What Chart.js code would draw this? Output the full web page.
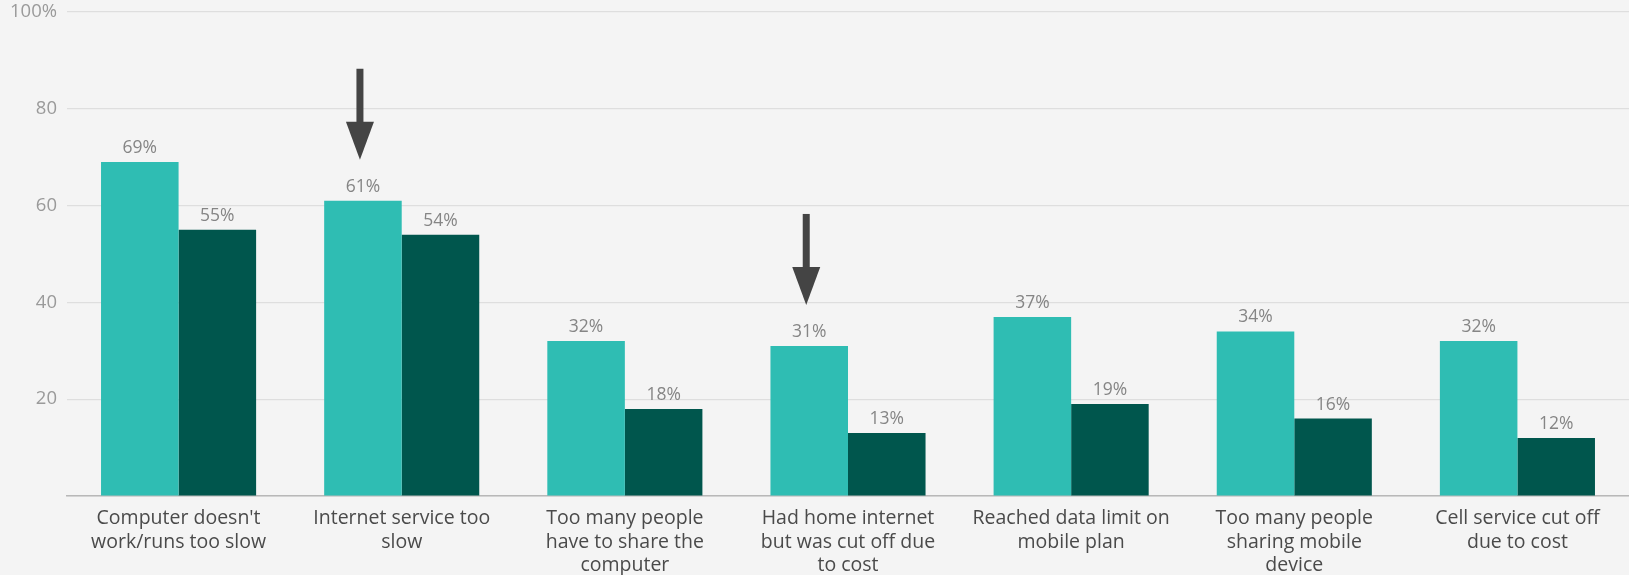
<!DOCTYPE html>
<html>
<head>
<meta charset="utf-8">
<script src="https://cdn.jsdelivr.net/npm/chart.js@4/dist/chart.umd.min.js"></script>
<style>
  html, body { margin: 0; padding: 0; background: #f4f4f4; }
  #wrap { width: 1629px; height: 575px; position: relative; }
</style>
</head>
<body>
<div id="wrap"><canvas id="chart"></canvas></div>
<script>
// Reasons for connectivity trouble, two groups side by side
const categories = [
    ["Computer doesn't", "work/runs too slow"],
    ["Internet service too", "slow"],
    ["Too many people", "have to share the", "computer"],
    ["Had home internet", "but was cut off due", "to cost"],
    ["Reached data limit on", "mobile plan"],
    ["Too many people", "sharing mobile", "device"],
    ["Cell service cut off", "due to cost"]
];
const groupA = [69, 61, 32, 31, 37, 34, 32];
const groupB = [55, 54, 18, 13, 19, 16, 12];
const yTicks = [0, 20, 40, 60, 80, 100];
const arrowedBars = [1, 3]; // categories marked with a down arrow (first series)

const FONT = '"Open Sans", sans-serif';

// value labels above each bar
const valueLabels = {
    id: 'valueLabels',
    afterDatasetsDraw(chart) {
        const ctx = chart.ctx;
        ctx.save();
        ctx.font = '17.5px ' + FONT;
        ctx.fillStyle = '#858585';
        ctx.textAlign = 'center';
        ctx.textBaseline = 'alphabetic';
        chart.data.datasets.forEach((ds, i) => {
            chart.getDatasetMeta(i).data.forEach((bar, j) => {
                ctx.fillText(ds.data[j] + '%', bar.x, bar.y - 9);
            });
        });
        ctx.restore();
    }
};

// down arrows pointing at highlighted bars
const arrows = {
    id: 'arrows',
    afterDatasetsDraw(chart) {
        const ctx = chart.ctx;
        const meta = chart.getDatasetMeta(0);
        ctx.save();
        ctx.fillStyle = '#444444';
        arrowedBars.forEach(idx => {
            const bar = meta.data[idx];
            const x = bar.x - 3;
            const tip = bar.y - 41;
            const headLen = 38, headW = 14, shaftW = 3.5, total = 91;
            ctx.fillRect(x - shaftW, tip - total, shaftW * 2, total - headLen + 1);
            ctx.beginPath();
            ctx.moveTo(x - headW, tip - headLen);
            ctx.lineTo(x + headW, tip - headLen);
            ctx.lineTo(x, tip);
            ctx.closePath();
            ctx.fill();
        });
        ctx.restore();
    }
};

new Chart(document.getElementById('chart'), {
    type: 'bar',
    data: {
        labels: categories,
        datasets: [
            { label: 'Group A', data: groupA, backgroundColor: '#2fbdb3' },
            { label: 'Group B', data: groupB, backgroundColor: '#00564d' }
        ]
    },
    options: {
        responsive: true,
        maintainAspectRatio: false,
        animation: false,
        layout: { padding: { top: 12, right: 0, left: 0, bottom: 0 } },
        datasets: { bar: { categoryPercentage: 0.695, barPercentage: 1 } },
        plugins: { legend: { display: false }, tooltip: { enabled: false } },
        scales: {
            x: {
                grid: { display: false },
                border: { display: true, color: '#b8b8b8', width: 1.5 },
                ticks: {
                    color: '#4a4a4a',
                    font: { family: FONT, size: 19.5, lineHeight: 1.2 },
                    padding: 3,
                    maxRotation: 0,
                    autoSkip: false
                },
                afterFit(scale) {
                    scale.height = 79;
                    scale.paddingLeft = 0;
                    scale.paddingRight = 0;
                }
            },
            y: {
                min: 0,
                max: 100,
                afterBuildTicks(scale) { scale.ticks = yTicks.map(v => ({ value: v })); },
                grid: { color: '#dedede', lineWidth: 1.2, drawTicks: false },
                border: { display: false },
                ticks: {
                    color: '#9a9a9a',
                    font: { family: FONT, size: 18.5 },
                    padding: 10,
                    callback: v => v === 0 ? '' : (v === 100 ? '100%' : v)
                },
                afterFit(scale) {
                    scale.width = 67;
                    scale.paddingTop = 0;
                    scale.paddingBottom = 0;
                }
            }
        }
    },
    plugins: [valueLabels, arrows]
});
</script>
</body>
</html>
